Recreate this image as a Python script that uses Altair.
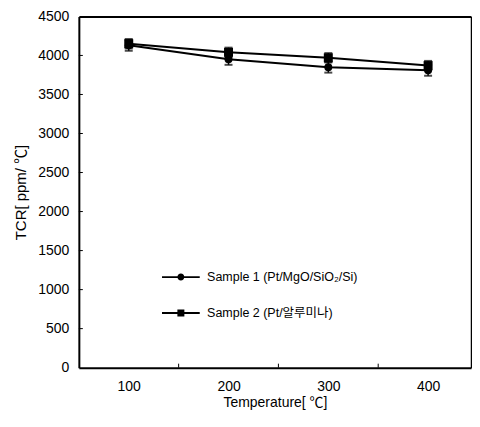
import altair as alt
import pandas as pd

temps = [100, 200, 300, 400]
series_names = ["Sample 1 (Pt/MgO/SiO₂/Si)", "Sample 2 (Pt/알루미나)"]
s1 = [4130, 3950, 3850, 3810]
s2 = [4150, 4040, 3970, 3870]
err1 = [70, 70, 70, 70]
err2 = [60, 60, 60, 60]
y_tick_vals = [500, 1000, 1500, 2000, 2500, 3000, 3500, 4000]
x_tick_vals = [150, 250, 350]
x_label_vals = [100, 200, 300, 400]
y_label_vals = [0, 500, 1000, 1500, 2000, 2500, 3000, 3500, 4000, 4500]

rows = []
for name, vals, errs in [(series_names[0], s1, err1), (series_names[1], s2, err2)]:
    for t, v, e in zip(temps, vals, errs):
        rows.append({"temp": t, "tcr": v, "lo": v - e, "hi": v + e, "series": name})
df = pd.DataFrame(rows)

FONT = "Liberation Sans, Arial, Noto Sans CJK KR"
PLOT_H = 352

xscale = alt.Scale(domain=[50, 443], nice=False)
yscale = alt.Scale(domain=[0, 4500], nice=False)
xaxis = alt.Axis(values=x_label_vals, title="Temperature[ ℃]", ticks=False,
                 grid=False, labelPadding=12, titlePadding=2, format="d",
                 labelOverlap=False, labelFontSize=14, titleFontSize=14,
                 domainColor="black", domainWidth=2, labelColor="black", titleColor="black",
                 titleFontWeight="normal", labelFont=FONT, titleFont=FONT)
yaxis = alt.Axis(values=y_label_vals, title="TCR[ ppm/ ℃]", ticks=False, grid=False,
                 labelPadding=10, titlePadding=9, format="d", labelOverlap=False,
                 labelFontSize=14, titleFontSize=15,
                 domainColor="black", domainWidth=2, labelColor="black", titleColor="black",
                 titleFontWeight="normal", labelFont=FONT, titleFont=FONT, labelBound=False)
top_axis = alt.Axis(orient="top", labels=False, ticks=False, grid=False, title=None,
                    domainColor="black", domainWidth=2)
right_axis = alt.Axis(orient="right", labels=False, ticks=False, grid=False, title=None,
                      domainColor="black", domainWidth=1.5)


def X(f, axis=None):
    return alt.X(f, scale=xscale, axis=axis)


def Y(f, axis=None):
    return alt.Y(f, scale=yscale, axis=axis)


base = alt.Chart(df)

lines = base.mark_line(color="black", strokeWidth=2).encode(
    x=X("temp:Q", xaxis), y=Y("tcr:Q", yaxis), detail="series:N")

frame = base.mark_point(opacity=0).encode(
    x=X("temp:Q", top_axis), y=Y("tcr:Q", right_axis))

err_rule = base.mark_rule(color="black", strokeWidth=1.5).encode(
    x=X("temp:Q"), y=Y("lo:Q"), y2="hi:Q")
err_lo = base.mark_tick(color="black", orient="horizontal", size=8, thickness=2).encode(
    x=X("temp:Q"), y=Y("lo:Q"))
err_hi = base.mark_tick(color="black", orient="horizontal", size=8, thickness=2).encode(
    x=X("temp:Q"), y=Y("hi:Q"))

points = base.mark_point(filled=True, color="black", opacity=1).encode(
    x=X("temp:Q"), y=Y("tcr:Q"),
    shape=alt.Shape("series:N", scale=alt.Scale(domain=series_names, range=["circle", "square"]),
                    legend=None),
    size=alt.Size("series:N", scale=alt.Scale(domain=series_names, range=[64, 81]), legend=None),
)

circ = ("M-5.4,-0.28H-0.9V0.28H-5.4Z M0.9,-0.28H5.4V0.28H0.9Z "
        "M1,0A1,1,0,1,1,-1,0A1,1,0,1,1,1,0Z")
sq = "M-5.4,-0.28H-1V0.28H-5.4Z M1,-0.28H5.4V0.28H1Z M-1,-1H1V1H-1Z"
legend_layer = base.transform_filter("false").mark_point(
    filled=True, color="black", opacity=1).encode(
    x=X("temp:Q"), y=Y("tcr:Q"),
    shape=alt.Shape("series:N", title=None,
                    scale=alt.Scale(domain=series_names, range=[circ, sq]),
                    legend=alt.Legend(orient="none", legendX=96, legendY=255, padding=0,
                                      symbolSize=49, symbolFillColor="black",
                                      labelOffset=20, rowPadding=22, labelFontSize=12.5,
                                      labelFont=FONT, labelColor="black", labelLimit=300)),
)

ytick_df = pd.DataFrame({"v": y_tick_vals})
xtick_df = pd.DataFrame({"v": x_tick_vals})
ytick = alt.Chart(ytick_df).mark_rule(color="black", strokeWidth=1).encode(
    y=Y("v:Q"), x=alt.value(0), x2=alt.value(4))
xtick = alt.Chart(xtick_df).mark_rule(color="black", strokeWidth=1).encode(
    x=X("v:Q"), y=alt.value(PLOT_H), y2=alt.value(PLOT_H - 4))

chart = alt.layer(lines, frame, err_rule, err_lo, err_hi, points, legend_layer, ytick, xtick).resolve_scale(
    shape="independent", size="independent"
).resolve_axis(
    x="independent", y="independent"
).properties(
    width=393, height=PLOT_H,
    background="white",
    autosize=alt.AutoSizeParams(type="none"),
    padding={"left": 71, "top": 8, "right": 1, "bottom": 48},
).configure_view(
    stroke=None
)

chart.save("out.html", embed_options={"renderer": "svg", "actions": False})
